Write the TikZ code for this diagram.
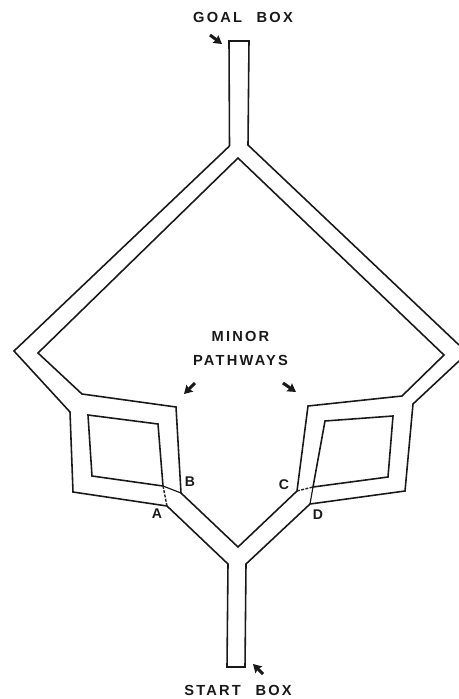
\documentclass[tikz,border=0pt]{standalone}
\usepackage{fontspec}
\setmainfont{Liberation Sans}
\usetikzlibrary{arrows.meta}
\tikzset{
  wall/.style={line width=1.35pt, line join=miter, color=black!90},
  doorline/.style={line width=1.2pt, dashed, dash pattern=on 2.5pt off 1.2pt, color=black!85},
  mazelabel/.style={font=\fontsize{12.5}{21}\selectfont\bfseries\addfontfeature{LetterSpace=15}, align=center, text=black!90, inner sep=0pt},
  doorlabel/.style={font=\fontsize{12}{13}\selectfont\bfseries, text=black!90, inner sep=0pt},
  pointer/.style={-{Stealth[length=7pt,width=8pt,inset=1pt]}, line width=2.6pt, color=black!90},
}
\begin{document}
\begin{tikzpicture}[x=0.03cm, y=-0.03cm]
  \useasboundingbox (0,0) rectangle (459,699);
  % outer wall
  \draw[wall] (229.5,146) -- (229,41) -- (249,41) -- (248,145) -- (459,345);
  \draw[wall] (229.5,146) -- (14,351) -- (70,412) -- (73,492) -- (167,506)
    -- (228,564) -- (227,667) -- (245,667) -- (246,564) -- (310,504)
    -- (405,491) -- (413,404) -- (459,361);
  % inner wall
  \draw[wall] (238,158) -- (38,353) -- (82,394) -- (176,407) -- (181,493)
    -- (238,547) -- (297,491) -- (308,406) -- (402,396) -- (444,355) -- cycle;
  % islands
  \draw[wall] (88,415) -- (158,424) -- (163,486) -- (92,476) -- cycle;
  \draw[wall] (325,421) -- (393,416) -- (388,477) -- (313,487) -- cycle;
  % doors
  \draw[wall, line width=1pt] (163,486) -- (181,493);
  \draw[doorline] (163,486) -- (167,506);
  \draw[doorline] (297,491) -- (313,487);
  \draw[wall, line width=1pt] (313,487) -- (310,504);
  % labels
  \node[mazelabel] (goal) at (243,17.5) {GOAL\hspace{1em}BOX};
  \node[mazelabel] (start) at (238,690.5) {START\hspace{1em}BOX};
  \node[mazelabel] (minor) at (240.5,348.5) {MINOR\\PATHWAYS};
  \node[doorlabel] (doorA) at (157,514) {A};
  \node[doorlabel] (doorB) at (190,482) {B};
  \node[doorlabel] (doorC) at (284,485) {C};
  \node[doorlabel] (doorD) at (318,515) {D};
  % pointers
  \draw[pointer] (210,35) -- (222,44);
  \draw[pointer] (263,674) -- (253,664);
  \draw[pointer] (195,383) -- (184,394);
  \draw[pointer] (283,383) -- (296,392);
\end{tikzpicture}
\end{document}
